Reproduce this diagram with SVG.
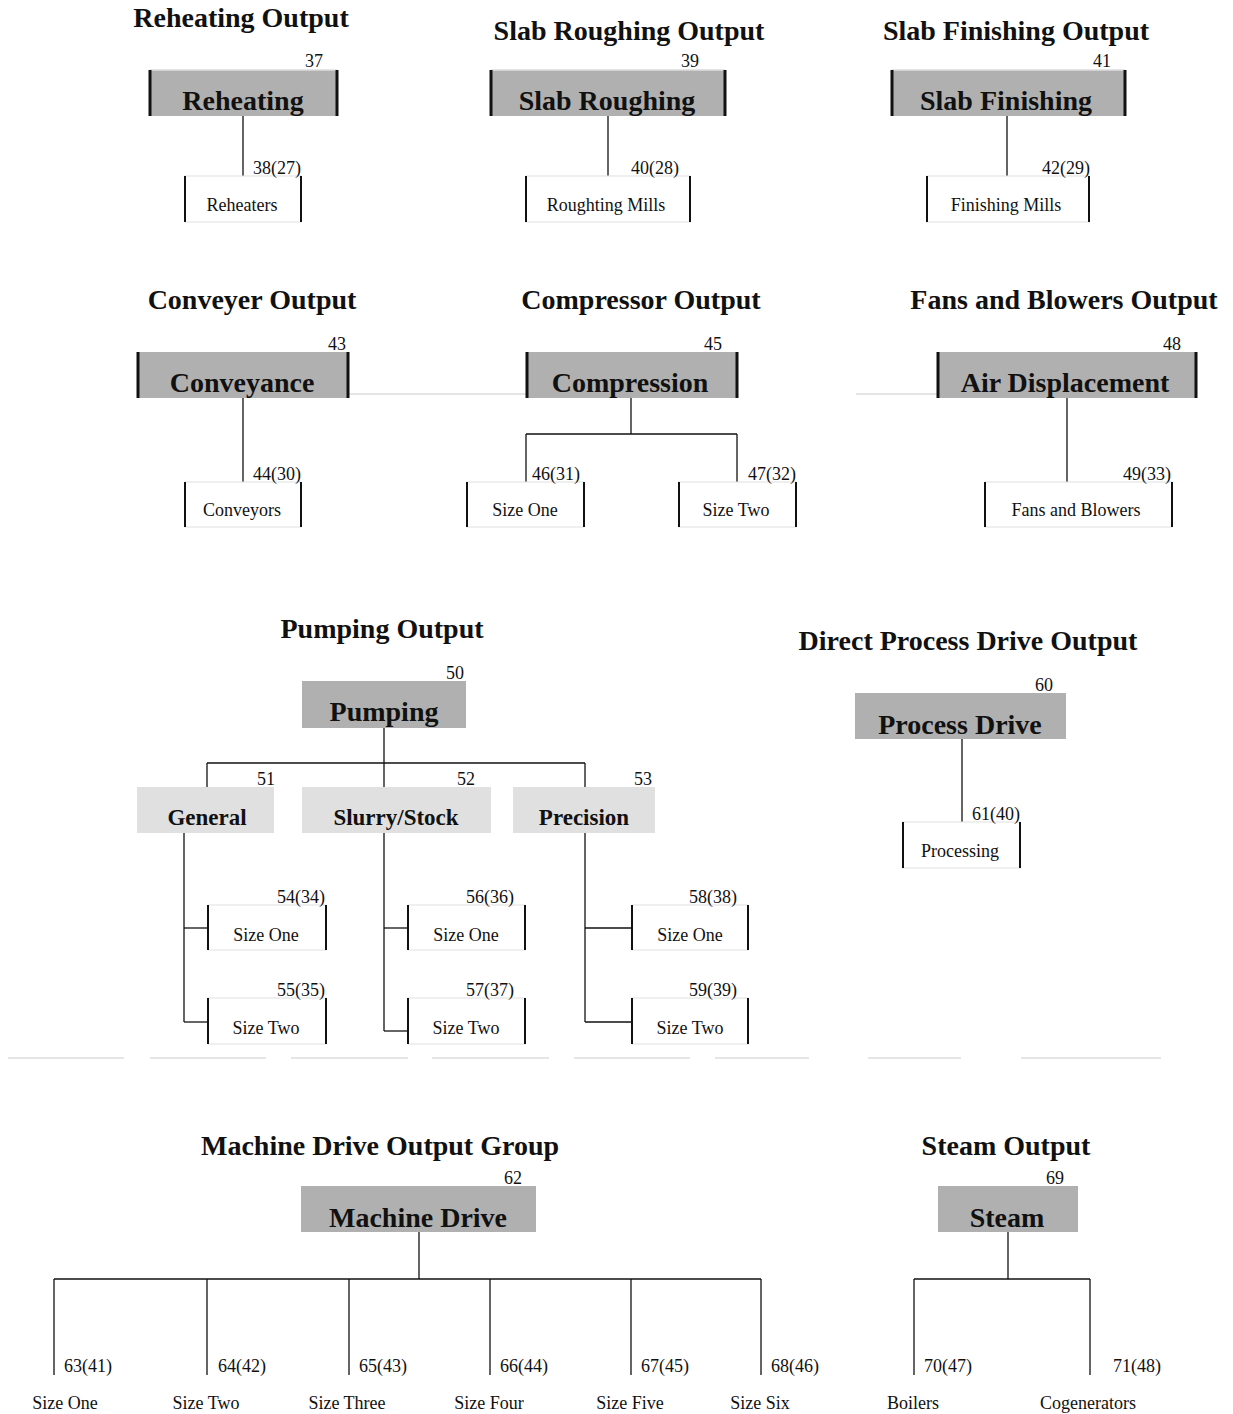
<svg xmlns="http://www.w3.org/2000/svg" width="1233" height="1414" viewBox="0 0 1233 1414">
<style>
text{font-family:"Liberation Serif","Times New Roman",serif;fill:#111}
.title{font-size:28px;font-weight:bold;text-anchor:middle}
.bl{font-size:28px;font-weight:bold;text-anchor:middle}
.sl{font-size:23px;font-weight:bold;text-anchor:middle}
.num{font-size:18px;text-anchor:middle}
.nums{font-size:18px;text-anchor:start}
.leaf{font-size:18px;text-anchor:middle}
.gbox{fill:#b0b0b0}
.lbox{fill:#e0e0e0}
.wbox{fill:#fff}
.side{stroke:#111;stroke-width:3}
.side2{stroke:#111;stroke-width:2}
.faint{stroke:#dcdcdc;stroke-width:1.5}
.conn line{stroke:#111;stroke-width:1.3}
</style>
<rect width="1233" height="1414" fill="#fff"/>

<!-- faint decorative lines -->
<g id="faint">
<line class="faint" x1="348" y1="394" x2="527" y2="394"/>
<line class="faint" x1="856" y1="394" x2="938" y2="394"/>
<line class="faint" x1="8" y1="1058" x2="124" y2="1058"/>
<line class="faint" x1="150" y1="1058" x2="266" y2="1058"/>
<line class="faint" x1="291" y1="1058" x2="408" y2="1058"/>
<line class="faint" x1="432" y1="1058" x2="549" y2="1058"/>
<line class="faint" x1="574" y1="1058" x2="690" y2="1058"/>
<line class="faint" x1="715" y1="1058" x2="809" y2="1058"/>
<line class="faint" x1="868" y1="1058" x2="961" y2="1058"/>
<line class="faint" x1="1021" y1="1058" x2="1161" y2="1058"/>
</g>

<g id="titles">
<text class="title" x="241" y="27">Reheating Output</text>
<text class="title" x="629" y="40">Slab Roughing Output</text>
<text class="title" x="1016" y="40">Slab Finishing Output</text>
<text class="title" x="252" y="309">Conveyer Output</text>
<text class="title" x="641" y="309">Compressor Output</text>
<text class="title" x="1064" y="309">Fans and Blowers Output</text>
<text class="title" x="382" y="638">Pumping Output</text>
<text class="title" x="968" y="650">Direct Process Drive Output</text>
<text class="title" x="380" y="1155">Machine Drive Output Group</text>
<text class="title" x="1006" y="1155">Steam Output</text>
</g>

<g id="connectors" class="conn">
<line x1="243" y1="116" x2="243" y2="176"/>
<line x1="608" y1="116" x2="608" y2="176"/>
<line x1="1007" y1="116" x2="1007" y2="176"/>
<line x1="243" y1="398" x2="243" y2="482"/>
<line x1="631" y1="398" x2="631" y2="434"/>
<line x1="526" y1="434" x2="737" y2="434"/>
<line x1="526" y1="434" x2="526" y2="482"/>
<line x1="737" y1="434" x2="737" y2="482"/>
<line x1="1067" y1="398" x2="1067" y2="482"/>
<line x1="384" y1="728" x2="384" y2="787"/>
<line x1="207" y1="763" x2="585" y2="763"/>
<line x1="207" y1="763" x2="207" y2="787"/>
<line x1="585" y1="763" x2="585" y2="787"/>
<line x1="184" y1="833" x2="184" y2="1022"/>
<line x1="184" y1="928" x2="208" y2="928"/>
<line x1="184" y1="1022" x2="208" y2="1022"/>
<line x1="384" y1="833" x2="384" y2="1031"/>
<line x1="384" y1="928" x2="408" y2="928"/>
<line x1="384" y1="1031" x2="408" y2="1031"/>
<line x1="585" y1="833" x2="585" y2="1022"/>
<line x1="585" y1="928" x2="632" y2="928"/>
<line x1="585" y1="1022" x2="632" y2="1022"/>
<line x1="962" y1="739" x2="962" y2="822"/>
<line x1="419" y1="1232" x2="419" y2="1279"/>
<line x1="54" y1="1279" x2="761" y2="1279"/>
<line x1="54" y1="1279" x2="54" y2="1375"/>
<line x1="207" y1="1279" x2="207" y2="1375"/>
<line x1="349" y1="1279" x2="349" y2="1375"/>
<line x1="490" y1="1279" x2="490" y2="1375"/>
<line x1="631" y1="1279" x2="631" y2="1375"/>
<line x1="761" y1="1279" x2="761" y2="1375"/>
<line x1="1008" y1="1232" x2="1008" y2="1279"/>
<line x1="914" y1="1279" x2="1090" y2="1279"/>
<line x1="914" y1="1279" x2="914" y2="1375"/>
<line x1="1090" y1="1279" x2="1090" y2="1375"/>
</g>

<!-- Top row -->
<g id="n37">
<rect class="gbox" x="150" y="70" width="187" height="46"/>
<line class="faint" x1="150" y1="70" x2="337" y2="70"/>
<line class="side" x1="150" y1="70" x2="150" y2="116"/><line class="side" x1="337" y1="70" x2="337" y2="116"/>
<text class="num" x="314" y="67">37</text>
<text class="bl" x="243" y="110">Reheating</text>
</g>
<g id="n38">
<rect class="wbox" x="185" y="176" width="116" height="46" stroke="#e0e0e0" stroke-width="1"/>
<line class="side2" x1="185" y1="176" x2="185" y2="222"/><line class="side2" x1="301" y1="176" x2="301" y2="222"/>
<text class="num" x="277" y="174">38(27)</text>
<text class="leaf" x="242" y="211">Reheaters</text>
</g>
<g id="n39">
<rect class="gbox" x="491" y="70" width="234" height="46"/>
<line class="faint" x1="491" y1="70" x2="725" y2="70"/>
<line class="side" x1="491" y1="70" x2="491" y2="116"/><line class="side" x1="725" y1="70" x2="725" y2="116"/>
<text class="num" x="690" y="67">39</text>
<text class="bl" x="607" y="110">Slab Roughing</text>
</g>
<g id="n40">
<rect class="wbox" x="526" y="176" width="164" height="46" stroke="#e0e0e0" stroke-width="1"/>
<line class="side2" x1="526" y1="176" x2="526" y2="222"/><line class="side2" x1="690" y1="176" x2="690" y2="222"/>
<text class="num" x="655" y="174">40(28)</text>
<text class="leaf" x="606" y="211">Roughting Mills</text>
</g>
<g id="n41">
<rect class="gbox" x="892" y="70" width="233" height="46"/>
<line class="faint" x1="892" y1="70" x2="1125" y2="70"/>
<line class="side" x1="892" y1="70" x2="892" y2="116"/><line class="side" x1="1125" y1="70" x2="1125" y2="116"/>
<text class="num" x="1102" y="67">41</text>
<text class="bl" x="1006" y="110">Slab Finishing</text>
</g>
<g id="n42">
<rect class="wbox" x="927" y="176" width="162" height="46" stroke="#e0e0e0" stroke-width="1"/>
<line class="side2" x1="927" y1="176" x2="927" y2="222"/><line class="side2" x1="1089" y1="176" x2="1089" y2="222"/>
<text class="num" x="1066" y="174">42(29)</text>
<text class="leaf" x="1006" y="211">Finishing Mills</text>
</g>

<!-- Row 2 -->
<g id="n43">
<rect class="gbox" x="138" y="352" width="210" height="46"/>
<line class="side" x1="138" y1="352" x2="138" y2="398"/><line class="side" x1="348" y1="352" x2="348" y2="398"/>
<text class="num" x="337" y="350">43</text>
<text class="bl" x="242" y="392">Conveyance</text>
</g>
<g id="n44">
<rect class="wbox" x="185" y="482" width="116" height="45" stroke="#e0e0e0" stroke-width="1"/>
<line class="side2" x1="185" y1="482" x2="185" y2="527"/><line class="side2" x1="301" y1="482" x2="301" y2="527"/>
<text class="num" x="277" y="480">44(30)</text>
<text class="leaf" x="242" y="516">Conveyors</text>
</g>
<g id="n45">
<rect class="gbox" x="527" y="352" width="210" height="46"/>
<line class="side" x1="527" y1="352" x2="527" y2="398"/><line class="side" x1="737" y1="352" x2="737" y2="398"/>
<text class="num" x="713" y="350">45</text>
<text class="bl" x="630" y="392">Compression</text>
</g>
<g id="n46">
<rect class="wbox" x="467" y="482" width="117" height="45" stroke="#e0e0e0" stroke-width="1"/>
<line class="side2" x1="467" y1="482" x2="467" y2="527"/><line class="side2" x1="584" y1="482" x2="584" y2="527"/>
<text class="num" x="556" y="480">46(31)</text>
<text class="leaf" x="525" y="516">Size One</text>
</g>
<g id="n47">
<rect class="wbox" x="679" y="482" width="117" height="45" stroke="#e0e0e0" stroke-width="1"/>
<line class="side2" x1="679" y1="482" x2="679" y2="527"/><line class="side2" x1="796" y1="482" x2="796" y2="527"/>
<text class="num" x="772" y="480">47(32)</text>
<text class="leaf" x="736" y="516">Size Two</text>
</g>
<g id="n48">
<rect class="gbox" x="938" y="352" width="258" height="46"/>
<line class="side" x1="938" y1="352" x2="938" y2="398"/><line class="side" x1="1196" y1="352" x2="1196" y2="398"/>
<text class="num" x="1172" y="350">48</text>
<text class="bl" x="1065" y="392">Air Displacement</text>
</g>
<g id="n49">
<rect class="wbox" x="985" y="482" width="187" height="45" stroke="#e0e0e0" stroke-width="1"/>
<line class="side2" x1="985" y1="482" x2="985" y2="527"/><line class="side2" x1="1172" y1="482" x2="1172" y2="527"/>
<text class="num" x="1147" y="480">49(33)</text>
<text class="leaf" x="1076" y="516">Fans and Blowers</text>
</g>

<!-- Pumping -->
<g id="n50">
<rect class="gbox" x="302" y="681" width="164" height="47"/>
<text class="num" x="455" y="679">50</text>
<text class="bl" x="384" y="721">Pumping</text>
</g>
<g id="n51">
<rect class="lbox" x="137" y="787" width="137" height="46"/>
<text class="num" x="266" y="785">51</text>
<text class="sl" x="207" y="825">General</text>
</g>
<g id="n52">
<rect class="lbox" x="302" y="787" width="189" height="46"/>
<text class="num" x="466" y="785">52</text>
<text class="sl" x="396" y="825">Slurry/Stock</text>
</g>
<g id="n53">
<rect class="lbox" x="513" y="787" width="142" height="46"/>
<text class="num" x="643" y="785">53</text>
<text class="sl" x="584" y="825">Precision</text>
</g>
<g id="n54">
<rect class="wbox" x="208" y="905" width="118" height="45" stroke="#e0e0e0" stroke-width="1"/>
<line class="side2" x1="208" y1="905" x2="208" y2="950"/><line class="side2" x1="326" y1="905" x2="326" y2="950"/>
<text class="num" x="301" y="903">54(34)</text>
<text class="leaf" x="266" y="941">Size One</text>
</g>
<g id="n55">
<rect class="wbox" x="208" y="998" width="118" height="46" stroke="#e0e0e0" stroke-width="1"/>
<line class="side2" x1="208" y1="998" x2="208" y2="1044"/><line class="side2" x1="326" y1="998" x2="326" y2="1044"/>
<text class="num" x="301" y="996">55(35)</text>
<text class="leaf" x="266" y="1034">Size Two</text>
</g>
<g id="n56">
<rect class="wbox" x="408" y="905" width="117" height="45" stroke="#e0e0e0" stroke-width="1"/>
<line class="side2" x1="408" y1="905" x2="408" y2="950"/><line class="side2" x1="525" y1="905" x2="525" y2="950"/>
<text class="num" x="490" y="903">56(36)</text>
<text class="leaf" x="466" y="941">Size One</text>
</g>
<g id="n57">
<rect class="wbox" x="408" y="998" width="117" height="46" stroke="#e0e0e0" stroke-width="1"/>
<line class="side2" x1="408" y1="998" x2="408" y2="1044"/><line class="side2" x1="525" y1="998" x2="525" y2="1044"/>
<text class="num" x="490" y="996">57(37)</text>
<text class="leaf" x="466" y="1034">Size Two</text>
</g>
<g id="n58">
<rect class="wbox" x="632" y="905" width="116" height="45" stroke="#e0e0e0" stroke-width="1"/>
<line class="side2" x1="632" y1="905" x2="632" y2="950"/><line class="side2" x1="748" y1="905" x2="748" y2="950"/>
<text class="num" x="713" y="903">58(38)</text>
<text class="leaf" x="690" y="941">Size One</text>
</g>
<g id="n59">
<rect class="wbox" x="632" y="998" width="116" height="46" stroke="#e0e0e0" stroke-width="1"/>
<line class="side2" x1="632" y1="998" x2="632" y2="1044"/><line class="side2" x1="748" y1="998" x2="748" y2="1044"/>
<text class="num" x="713" y="996">59(39)</text>
<text class="leaf" x="690" y="1034">Size Two</text>
</g>

<!-- Process drive -->
<g id="n60">
<rect class="gbox" x="855" y="693" width="211" height="46"/>
<text class="num" x="1044" y="691">60</text>
<text class="bl" x="960" y="734">Process Drive</text>
</g>
<g id="n61">
<rect class="wbox" x="903" y="822" width="117" height="46" stroke="#e0e0e0" stroke-width="1"/>
<line class="side2" x1="903" y1="822" x2="903" y2="868"/><line class="side2" x1="1020" y1="822" x2="1020" y2="868"/>
<text class="num" x="996" y="820">61(40)</text>
<text class="leaf" x="960" y="857">Processing</text>
</g>

<!-- Machine drive -->
<g id="n62">
<rect class="gbox" x="301" y="1186" width="235" height="46"/>
<text class="num" x="513" y="1184">62</text>
<text class="bl" x="418" y="1227">Machine Drive</text>
</g>
<g id="n63"><text class="nums" x="64" y="1372">63(41)</text><text class="leaf" x="65" y="1409">Size One</text></g>
<g id="n64"><text class="nums" x="218" y="1372">64(42)</text><text class="leaf" x="206" y="1409">Size Two</text></g>
<g id="n65"><text class="nums" x="359" y="1372">65(43)</text><text class="leaf" x="347" y="1409">Size Three</text></g>
<g id="n66"><text class="nums" x="500" y="1372">66(44)</text><text class="leaf" x="489" y="1409">Size Four</text></g>
<g id="n67"><text class="nums" x="641" y="1372">67(45)</text><text class="leaf" x="630" y="1409">Size Five</text></g>
<g id="n68"><text class="nums" x="771" y="1372">68(46)</text><text class="leaf" x="760" y="1409">Size Six</text></g>

<!-- Steam -->
<g id="n69">
<rect class="gbox" x="938" y="1186" width="140" height="46"/>
<text class="num" x="1055" y="1184">69</text>
<text class="bl" x="1007" y="1227">Steam</text>
</g>
<g id="n70"><text class="nums" x="924" y="1372">70(47)</text><text class="leaf" x="913" y="1409">Boilers</text></g>
<g id="n71"><text class="nums" x="1113" y="1372">71(48)</text><text class="leaf" x="1088" y="1409">Cogenerators</text></g>
</svg>
